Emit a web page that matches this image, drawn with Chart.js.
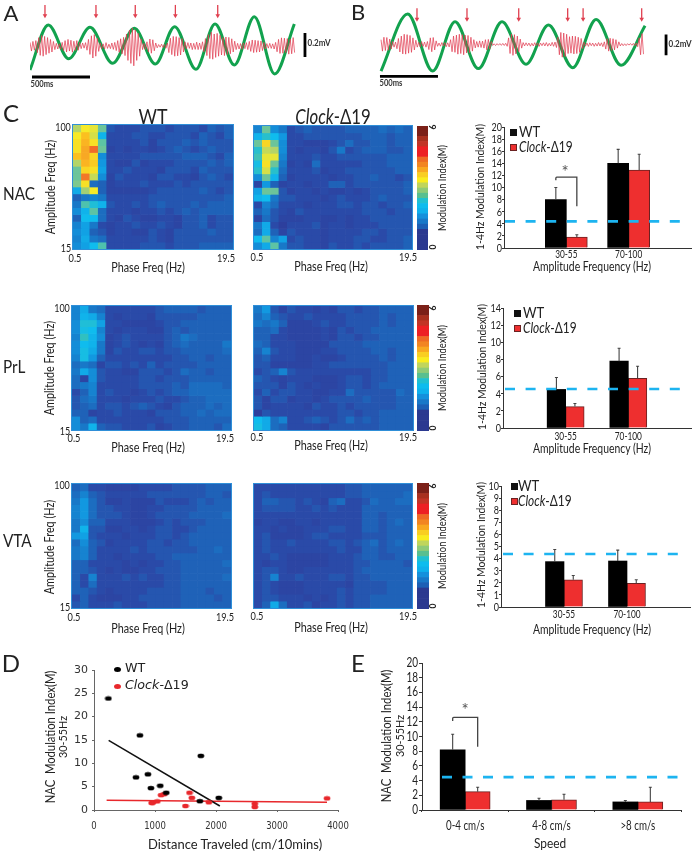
<!DOCTYPE html>
<html><head><meta charset="utf-8">
<script src="https://cdn.jsdelivr.net/npm/chart.js@4"></script>
<style>
html,body{margin:0;padding:0;background:#fff;}
#stage{position:relative;width:692px;height:853px;overflow:hidden;filter:blur(0.4px);font-family:Lato,sans-serif;color:#222;}
#stage canvas{position:absolute;}
.t{position:absolute;white-space:nowrap;line-height:1;}
.s{position:absolute;}
</style></head><body><div id="stage"></div>
<script>
/* ---------- Panels A, B: traces (µV, ms) ---------- */
const sampleStepMs = 12.5;
const greenTimeA = [0,157,331,513,707,892,1072,1237,1419,1582,1747,1918,2092,2260];
const greenValueA = [-200,175,-106,156,-144,147,-150,161,-194,183,-158,244,-233,183];
const redValueA = [30,-42,38,-35,45,-55,70,-78,88,-85,80,-72,70,-60,55,-50,38,-30,22,-25,18,-28,30,-38,45,-50,55,-42,48,-52,40,-38,45,-35,30,-22,25,-18,28,-35,55,-70,85,-100,95,-85,65,-45,25,-22,18,-25,28,-20,15,-22,25,-28,30,-38,45,-52,60,-65,72,-80,100,-120,130,-145,150,-165,135,-120,105,-85,60,-30,22,-28,35,-50,58,-60,52,-40,25,-15,12,-10,15,-12,14,-18,25,-55,65,-72,80,-85,78,-82,70,-75,62,-50,35,-22,28,-20,25,-30,22,-28,32,-30,25,-28,35,-48,62,-80,95,-105,115,-110,100,-95,105,-85,90,-75,70,-80,75,-70,72,-65,60,-50,40,-30,22,-25,20,-28,25,-22,28,-30,38,-45,50,-55,48,-52,45,-50,42,-38,30,-25,20,-18,22,-20,18,-25,30,-48,55,-62,68,-60,65,-55,62,-68,58,-65,70,-55];
const arrowsA = [128,564,900,1243,1605];
const greenTimeB = [0,230,445,638,839,1043,1250,1443,1653,1854,2069,2276];
const greenValueB = [-220,253,-220,189,-200,189,-164,161,-192,208,-172,156];
const redValueB = [40,-55,60,-50,58,-48,45,-38,25,-22,20,-35,50,-62,70,-78,85,-80,82,-72,75,-65,55,-45,35,-22,18,-20,24,-16,20,-22,25,-42,55,-60,58,-45,30,-15,12,-14,16,-12,15,-18,14,-20,40,-60,70,-65,78,-80,85,-75,82,-85,78,-70,75,-68,60,-55,40,-28,25,-22,30,-25,28,-30,40,-45,42,-38,25,-8,6,-9,7,-6,8,-7,9,-8,10,-15,55,-75,85,-90,82,-78,70,-60,45,-30,16,-12,14,-10,12,-14,10,-12,15,-10,13,-16,12,-10,14,-12,16,-14,10,-12,18,-15,20,-25,60,-85,100,-105,95,-100,85,-75,65,-72,70,-78,68,-75,60,-65,50,-35,18,-14,12,-16,14,-10,12,-15,10,-13,16,-12,14,-18,22,-38,48,-55,52,-50,48,-45,40,-30,22,-12,8,-10,6,-9,7,-5,8,-6,9,-10,12,-18,55,-85,90,-80];
const arrowsB = [310,741,1187,1609,1742,2247];

/* ---------- Panel C: comodulograms (modulation index ×10), rows 100→15 Hz ---------- */
const nacWT = [
[31,35,34,27,9,8,8,8,9,9,9,8,9,9,9,8,10,9,10],[35,39,33,18,8,8,8,9,9,8,8,9,9,9,8,10,9,8,10],
[36,40,36,26,8,8,8,8,9,7,9,9,9,10,9,10,9,9,9],[36,41,46,27,7,8,7,8,8,7,8,9,10,9,8,9,10,9,9],
[39,41,37,14,8,8,8,8,9,9,9,9,9,10,10,10,9,8,10],[31,40,38,15,8,7,7,9,7,8,8,8,9,9,9,9,10,9,10],
[27,37,36,16,8,8,9,8,8,8,7,9,9,9,8,10,9,9,9],[27,45,32,14,7,9,8,8,8,7,9,9,8,8,7,9,10,9,8],
[28,36,11,10,7,8,8,8,9,8,8,8,9,8,9,9,9,9,9],[17,30,35,10,7,7,7,7,7,8,9,9,9,9,9,10,9,8,9],
[10,12,13,12,8,8,8,8,8,9,9,9,9,9,9,9,9,9,10],[12,25,21,18,9,8,8,9,8,9,10,9,9,9,10,9,10,10,10],
[14,18,26,11,8,8,8,7,8,8,9,8,9,10,9,10,10,10,10],[10,19,19,11,8,7,9,8,7,7,8,8,7,9,9,10,8,9,9],
[13,16,12,8,7,8,8,9,8,8,9,8,7,9,9,10,8,9,9],[14,16,10,9,7,8,8,7,7,9,8,7,9,9,9,9,10,9,9],
[13,17,12,11,8,8,8,8,8,9,8,7,9,9,9,9,9,9,9],[14,16,19,25,8,8,8,8,9,9,9,8,9,9,9,10,10,10,10]];
const nacClock = [
[13,27,14,12,8,9,10,9,9,9,9,10,10,10,10,11,10,11,10],[18,22,19,15,8,8,9,9,9,9,9,9,9,10,10,10,9,10,10],
[27,37,27,14,8,8,7,7,7,8,9,11,9,9,10,10,9,10,10],[22,32,31,14,8,7,8,8,7,9,12,8,9,10,10,10,9,9,10],
[24,34,34,13,8,8,8,9,8,8,9,9,9,9,9,9,10,10,10],[20,36,27,12,7,8,7,11,8,8,8,8,8,9,9,9,10,10,10],
[22,33,22,11,8,8,8,9,7,8,8,9,9,9,9,9,9,10,10],[14,27,18,10,7,8,8,8,8,7,8,8,9,9,10,9,9,8,9],
[7,15,10,7,8,8,7,8,8,10,10,8,9,9,9,9,9,9,10],[16,27,27,9,7,8,8,7,8,7,7,8,7,8,9,9,9,9,10],
[18,19,12,9,9,8,8,8,7,8,9,8,8,8,9,10,9,9,9],[8,13,11,8,8,8,7,8,8,8,9,9,8,9,9,8,9,9,10],
[10,12,9,8,7,9,8,8,8,8,8,8,8,9,9,9,8,9,9],[7,11,9,7,7,7,8,8,7,7,8,7,8,8,9,9,9,9,9],
[12,17,8,6,8,8,8,9,7,8,8,7,8,8,8,9,9,9,9],[11,17,10,7,9,8,8,8,7,8,8,8,8,9,9,8,9,9,9],
[19,26,13,16,8,9,8,8,7,8,8,8,9,9,8,8,9,9,10],[14,17,26,12,9,9,8,8,7,9,8,8,9,8,9,9,9,9,10]];
const prlWT = [
[13,17,12,11,8,8,8,8,8,8,9,10,10,10,10,9,10,10,10],[13,18,17,13,8,7,8,8,8,7,9,9,9,9,9,10,10,10,10],
[14,21,21,16,8,8,7,7,7,7,8,9,9,10,10,10,10,10,10],[14,20,19,13,8,7,8,8,8,7,7,9,10,9,10,10,10,10,10],
[13,23,18,14,7,8,9,8,8,8,8,9,10,12,11,10,10,10,10],[14,19,18,12,7,8,9,8,7,8,7,9,10,11,10,10,10,10,12],
[14,20,17,12,7,9,8,8,9,9,8,9,9,10,10,10,10,10,11],[13,20,15,10,8,8,8,8,8,8,8,8,9,9,10,10,9,10,10],
[11,12,11,7,9,9,8,9,8,10,8,9,9,9,9,10,10,10,10],[12,17,14,9,8,8,7,7,9,9,9,8,9,11,10,10,9,10,10],
[11,7,14,9,8,8,8,8,9,9,8,9,9,9,10,10,10,10,10],[11,12,13,8,8,8,8,8,9,9,9,9,10,9,11,11,11,11,10],
[8,10,13,8,9,8,8,7,8,9,8,9,10,10,11,11,11,11,11],[9,11,12,8,8,8,7,8,8,8,9,8,8,9,10,10,11,11,11],
[9,10,11,8,9,9,8,9,10,9,8,7,9,10,10,10,11,10,11],[10,10,7,8,8,9,8,8,8,7,9,9,9,10,10,11,10,11,11],
[14,10,11,8,8,8,8,8,8,8,8,9,9,9,10,10,10,10,10],[14,12,18,10,9,9,8,8,8,9,7,8,9,9,10,10,10,9,11]];
const prlClock = [
[12,15,9,7,9,8,8,7,8,7,9,9,8,9,9,10,10,10,10],[11,13,10,9,8,8,9,8,8,8,8,9,9,9,9,10,9,10,10],
[12,11,12,10,7,7,7,8,9,8,8,9,9,9,9,10,9,10,10],[10,10,11,8,7,7,7,7,8,7,9,8,9,9,10,10,10,10,10],
[10,10,8,8,7,7,7,7,8,7,9,9,8,9,9,10,10,10,10],[11,10,8,8,8,7,7,7,7,9,9,9,9,10,10,10,10,10,10],
[10,13,9,8,8,7,7,7,8,8,9,9,9,9,10,10,9,10,10],[9,10,8,8,8,7,7,8,7,7,8,9,9,9,9,10,9,10,10],
[9,9,7,7,7,7,7,8,8,9,9,9,9,9,9,9,10,10,10],[8,9,10,13,9,8,8,8,8,8,8,8,8,8,9,9,10,10,10],
[10,9,8,7,8,8,8,7,7,7,8,9,9,8,9,9,10,10,10],[9,9,9,7,9,8,7,8,7,7,8,9,9,8,9,10,10,10,10],
[8,10,8,9,9,8,8,7,7,8,8,11,9,9,9,9,9,11,10],[9,7,9,9,7,8,8,7,8,9,9,9,9,10,9,9,9,10,10],
[9,7,8,8,8,8,7,9,8,8,9,8,9,9,9,9,9,10,10],[6,9,8,8,8,8,8,8,8,8,9,9,8,9,9,10,10,10,10],
[19,17,11,13,8,8,9,10,9,8,9,11,9,10,9,10,10,10,10],[20,17,11,10,8,8,8,8,7,9,9,9,9,9,9,10,10,10,10]];
const vtaWT = [
[10,11,8,8,7,7,7,7,8,8,8,8,9,9,9,9,10,10,10],[11,13,10,9,8,8,8,8,8,9,9,9,9,9,9,9,10,10,9],
[12,15,11,9,7,7,8,7,7,7,9,8,8,8,9,10,9,10,10],[13,15,11,9,9,8,8,7,7,8,8,9,9,9,9,10,10,10,10],
[13,15,11,9,9,9,8,7,7,8,9,9,9,9,10,10,10,10,11],[12,14,10,10,8,8,8,7,7,7,8,9,8,9,9,9,10,10,10],
[12,18,9,9,7,7,8,8,7,8,9,9,8,8,9,10,10,10,10],[15,16,9,8,8,8,7,8,8,8,9,9,8,9,10,10,10,10,10],
[11,14,10,9,7,8,8,8,8,9,9,8,9,9,10,10,10,10,10],[12,13,10,8,8,8,8,9,8,9,9,9,9,9,9,10,10,11,10],
[12,13,10,8,8,7,8,8,8,8,9,9,10,10,10,10,10,10,10],[10,10,8,8,8,8,7,8,7,8,8,9,9,10,10,10,10,10,11],
[10,10,9,8,7,8,7,7,8,8,9,9,9,10,10,10,10,10,10],[10,8,13,8,8,8,9,8,9,8,8,9,9,10,10,10,10,10,11],
[10,8,11,8,8,8,8,8,8,8,8,9,9,10,10,10,10,10,10],[10,10,9,8,7,8,8,8,8,9,9,9,9,10,10,10,9,10,10],
[8,10,8,7,7,7,8,8,9,9,9,9,9,10,10,10,10,9,10],[9,10,8,8,8,9,8,8,8,9,9,9,9,10,10,10,10,10,10]];
const vtaClock = [
[8,8,8,8,8,8,8,8,8,8,8,9,9,10,10,10,10,10,10],[8,9,8,8,8,8,8,8,8,8,8,9,9,10,10,10,10,10,11],
[8,10,10,9,9,8,9,8,7,10,11,8,8,9,11,10,10,11,11],[8,9,9,9,9,8,8,9,8,9,8,8,8,10,10,10,10,10,10],
[8,8,8,8,8,8,8,8,8,8,8,8,8,10,10,9,10,10,10],[7,8,8,7,7,8,8,7,8,8,8,8,8,10,10,9,10,11,10],
[8,8,7,8,7,7,8,8,8,9,9,8,8,10,10,9,10,10,10],[8,9,7,7,7,7,8,9,9,8,8,8,8,9,9,9,10,10,10],
[8,9,8,8,9,8,8,8,8,9,9,8,9,10,11,9,10,11,10],[8,9,8,8,8,8,8,8,8,8,9,8,8,10,10,9,10,10,10],
[8,8,9,8,7,7,7,7,7,8,8,8,9,10,10,9,9,10,10],[8,7,8,8,7,7,7,7,7,8,8,8,9,9,10,10,10,10,9],
[8,9,9,8,7,7,8,8,8,8,8,8,9,10,10,10,10,10,10],[8,9,13,8,8,9,8,8,8,9,9,8,9,9,10,10,10,10,10],
[8,9,8,7,7,7,8,8,8,8,8,7,9,9,9,9,10,10,10],[8,9,8,7,7,7,8,8,8,8,9,8,9,9,9,9,10,10,10],
[8,9,9,8,8,8,7,8,7,8,9,8,9,9,10,10,10,10,10],[8,10,17,11,8,8,9,7,8,8,9,8,9,9,10,10,10,10,10]];
const phaseBins = ['0.5','1.5','2.5','3.5','4.5','5.5','6.5','7.5','8.5','9.5','10.5','11.5','12.5','13.5','14.5','15.5','16.5','17.5','18.5'];
const heatStopValues = [5,8,10,12,15,19,23,27,31,35,39,43,47,51,55,60];
const heatStopColors = ['#2f3a98','#2a4aa8','#1f62b8','#1878c8','#1298e0','#0fbcee','#30c0c0','#6cc49a','#b4d468','#f6ea28','#fbc020','#f59028','#ef6028','#ea2226','#b83224','#7a1c14'];
const colorbarBands = ['#2b3990','#2b3990','#2b3990','#2b3990','#1c5fb5','#1878c8','#1590dc','#0fb0ec','#0dbcee','#20c0d0','#58bf90','#8fca78','#c0d55c','#f9ec1f','#f9ce22','#f8a820','#f28522','#ee6a24','#ed2024','#ed2024','#c23426','#a8301f','#7b2018','#7b2018'];

/* ---------- Panel C: bars ---------- */
const freqCats = ['', '30-55', '70-100', ''];
const nacWTBars = [null,8,14,null],      nacWTErr = [null,10,16.3,null];
const nacClockBars = [null,1.8,12.9,null], nacClockErr = [null,2.2,15.5,null];
const prlWTBars = [null,4.5,7.8,null],   prlWTErr = [null,5.9,9.3,null];
const prlClockBars = [null,2.5,5.8,null],prlClockErr = [null,2.85,7.2,null];
const vtaWTBars = [null,3.75,3.8,null],  vtaWTErr = [null,4.75,4.7,null];
const vtaClockBars = [null,2.25,1.95,null], vtaClockErr = [null,2.6,2.25,null];

/* ---------- Panel D ---------- */
const dWTx = [235,753,1752,688,884,933,1086,1184,1735,2046];
const dWTy = [23.9,16,11.6,7,7.66,4.7,5.2,3.7,1.9,2.6];
const dClockX = [945,966,1037,1100,1150,1500,1566,1604,1883,2636,2636,3820];
const dClockY = [1.5,1.6,1.86,3.2,3.4,0.86,3.7,2.6,1.65,1.36,0.65,2.5];
const dWTFitX = [240,2063], dWTFitY = [14.9,0.86];
const dClockFitX = [207,3820], dClockFitY = [2.08,1.65];

/* ---------- Panel E ---------- */
const speedCats = ['0-4 cm/s','4-8 cm/s','>8 cm/s'];
const eWTBars = [8.2,1.3,1.1],   eWTErr = [10.3,1.6,1.3];
const eClockBars = [2.5,1.4,1.1], eClockErr = [3.1,2.15,3.1];

/* ---------- helpers ---------- */
const stage = document.getElementById('stage');
function text(html,x,y,o={}){
  const d=document.createElement('div');d.className='t';d.innerHTML=html;
  d.style.left=x+'px';d.style.top=y+'px';
  d.style.fontSize=(o.size||13)+'px';
  if(o.font)d.style.fontFamily=o.font;
  if(o.weight)d.style.fontWeight=o.weight;
  if(o.color)d.style.color=o.color;
  const left=o.anchor==='left';
  if(left)d.style.transformOrigin='left center';
  d.style.transform=`translate(${left?'0%':'-50%'},-50%)`+(o.rot?` rotate(${o.rot}deg)`:'')+(o.sx?` scaleX(${o.sx})`:'');
  stage.appendChild(d);
}
function swatch(x,y,w,h,fill,border){
  const d=document.createElement('div');d.className='s';
  d.style.cssText+=`left:${x}px;top:${y}px;width:${w}px;height:${h}px;background:${fill};box-sizing:border-box;`+(border?`border:1px solid ${border};`:'');
  stage.appendChild(d);return d;
}
function canvasAt(l,t,w,h){
  const c=document.createElement('canvas');c.width=w;c.height=h;
  c.style.left=l+'px';c.style.top=t+'px';c.style.width=w+'px';c.style.height=h+'px';
  stage.appendChild(c);return c;
}
function heatColor(v){
  if(v<=heatStopValues[0])return heatStopColors[0];
  for(let i=1;i<heatStopValues.length;i++){
    if(v<=heatStopValues[i]){
      const f=(v-heatStopValues[i-1])/(heatStopValues[i]-heatStopValues[i-1]);
      const a=heatStopColors[i-1],b=heatStopColors[i];
      const ch=(s,k)=>parseInt(s.substr(1+k*2,2),16);
      return `rgb(${[0,1,2].map(k=>Math.round(ch(a,k)+(ch(b,k)-ch(a,k))*f)).join(',')})`;
    }
  }
  return heatStopColors[heatStopColors.length-1];
}
/* paints each scale's own tick labels horizontally condensed, at the scale's tick pixels */
function tickPainter(c){return {id:'tickPainter',afterDraw(ch){
  const g=ch.ctx,a=ch.chartArea;
  ['x','y'].forEach(k=>{
    const s=ch.scales[k],f=c[k];
    s.ticks.forEach((tk,i)=>{
      if(tk.label===''||tk.label==null)return;
      const p=s.getPixelForTick(i);
      g.save();
      g.fillStyle=c.color||'#222';g.textBaseline='middle';
      g.font=`${f.size}px "${f.family}"`;
      if(k==='x'){g.translate(p,a.bottom+f.off);g.textAlign='center';}
      else{g.translate(a.left-f.off,p);g.textAlign='right';}
      g.scale(f.sx,1);g.fillText(String(tk.label),0,0);g.restore();
    });
  });
}};}
const silent={legend:{display:false},tooltip:{enabled:false},title:{display:false}};
function heatmap(rows,l,t,r,b){
  const c=canvasAt(l,t,r-l,b-t);
  c.style.outline='1px solid #2f8fd8';
  new Chart(c,{type:'bar',
    data:{labels:phaseBins,datasets:rows.map((row,ri)=>({
      data:row.map(()=>[ri,ri+1]),backgroundColor:row.map(heatColor),
      borderWidth:0,barPercentage:1,categoryPercentage:1,grouped:false}))},
    options:{responsive:false,animation:false,events:[],plugins:silent,layout:{padding:0},
      scales:{x:{display:false},y:{display:false,reverse:true,min:0,max:rows.length}}}});
}
function colorbar(l,t,r,b){
  const c=canvasAt(l,t,r-l,b-t);
  new Chart(c,{type:'bar',
    data:{labels:['M'],datasets:colorbarBands.map((col,i)=>({
      data:[[i/4,(i+1)/4]],backgroundColor:col,borderWidth:0,barPercentage:1,categoryPercentage:1,grouped:false}))},
    options:{responsive:false,animation:false,events:[],plugins:silent,layout:{padding:0},
      scales:{x:{display:false},y:{display:false,min:0,max:6}}}});
}
function barChart(o){
  const padL=o.l-o.cl, padT=10, padB=28, padR=o.cr-o.r;
  const c=canvasAt(o.cl,o.t-padT,o.cr-o.cl,o.b-o.t+padT+padB);
  const overlay={id:'overlay',afterDatasetsDraw(ch){
    const g=ch.ctx,y=ch.scales.y;
    [[0,o.wtErr],[1,o.clockErr]].forEach(([ds,err])=>{
      const m=ch.getDatasetMeta(ds);
      err.forEach((e,i)=>{ if(e==null)return;
        const el=m.data[i],p=y.getPixelForValue(e);
        g.save();g.strokeStyle='#444';g.lineWidth=1.1;g.beginPath();
        g.moveTo(el.x,el.y);g.lineTo(el.x,p);g.moveTo(el.x-1.5,p);g.lineTo(el.x+1.5,p);g.stroke();g.restore();
      });
    });
    const ty=y.getPixelForValue(o.threshold);
    g.save();g.strokeStyle='#1db4f0';g.lineWidth=2.6;g.setLineDash(o.dash||[10,10.6]);
    g.beginPath();g.moveTo(o.dashL-o.cl,ty);g.lineTo(o.dashR-o.cl,ty);g.stroke();g.restore();
    if(o.bracket){
      const i=o.bracket.index,a=ch.getDatasetMeta(0).data[i],b=ch.getDatasetMeta(1).data[i];
      const top=y.getPixelForValue(o.bracket.top),lo=y.getPixelForValue(o.bracket.left),ro=y.getPixelForValue(o.bracket.right);
      g.save();g.strokeStyle='#444';g.lineWidth=1.3;g.beginPath();
      g.moveTo(a.x,lo);g.lineTo(a.x,top+1);g.quadraticCurveTo(a.x,top,a.x+1,top);g.lineTo(b.x,top);g.lineTo(b.x,ro);g.stroke();g.restore();
    }
  }};
  new Chart(c,{type:'bar',plugins:[overlay,tickPainter({
      x:{size:o.xSize,family:'Lato',sx:o.xSx,off:o.xOff},
      y:{size:o.ySize,family:'Lato',sx:o.ySx,off:o.yOff}})],
    data:{labels:o.cats,datasets:[
      {data:o.wt,backgroundColor:'#000',borderWidth:0,barThickness:o.bw},
      {data:o.clock,backgroundColor:'#ee2f2f',borderColor:'#6b2222',borderWidth:1,barThickness:o.bw}]},
    options:{responsive:false,animation:false,events:[],plugins:silent,
      layout:{padding:{top:padT,right:padR,left:0,bottom:0}},
      scales:{
        x:{offset:o.offset,grid:{display:!!o.offset,drawOnChartArea:false,tickLength:2,color:'#333'},
           border:{color:'#333',width:1},
           ticks:{display:false,autoSkip:false,maxRotation:0},
           afterFit:s=>{s.height=padB;}},
        y:{min:0,max:o.yMax,grid:{drawOnChartArea:false,drawTicks:true,tickLength:o.yTick,color:'#333'},
           border:{color:'#333',width:1},
           ticks:{display:false,stepSize:o.step,autoSkip:false},
           afterFit:s=>{s.width=padL;}}
      }}});
}
function wave(o){
  const c=canvasAt(o.l,o.t,o.r-o.l,o.b-o.t);
  const arrows={id:'arrows',afterDatasetsDraw(ch){
    const g=ch.ctx,x=ch.scales.x,y=ch.scales.y;
    o.arrows.forEach(a=>{
      const px=x.getPixelForValue(a),t=y.getPixelForValue(o.arrowTop),b=y.getPixelForValue(o.arrowTip);
      g.save();g.strokeStyle='#e04050';g.fillStyle='#e04050';g.lineWidth=1.3;
      g.beginPath();g.moveTo(px,t);g.lineTo(px,b-3);g.stroke();
      g.beginPath();g.moveTo(px-2.3,b-4);g.lineTo(px+2.3,b-4);g.lineTo(px,b);g.closePath();g.fill();g.restore();
    });
  }};
  new Chart(c,{type:'line',plugins:[arrows],
    data:{datasets:[
      {data:o.red.map((v,i)=>({x:i*sampleStepMs,y:v})),borderColor:'rgba(225,60,80,0.72)',borderWidth:1,pointRadius:0,tension:0},
      {data:o.greenT.map((t,i)=>({x:t,y:o.greenV[i]})),borderColor:'#12a24e',borderWidth:3,pointRadius:0,cubicInterpolationMode:'monotone'},
      {data:o.barH,borderColor:'#000',borderWidth:2.8,pointRadius:0},
      {data:o.barV,borderColor:'#000',borderWidth:2.8,pointRadius:0}]},
    options:{responsive:false,animation:false,events:[],plugins:silent,layout:{padding:0},
      scales:{x:{type:'linear',display:false,min:o.xMin,max:o.xMax},y:{display:false,min:-o.yLim,max:o.yLim}}}});
}

/* ---------- A, B ---------- */
wave({l:30,t:0,r:330,b:92,xMin:0,xMax:2565,yLim:383,red:redValueA,greenT:greenTimeA,greenV:greenValueA,arrows:arrowsA,arrowTop:342,arrowTip:231,
  barH:[{x:17,y:-258},{x:513,y:-258}],barV:[{x:2351,y:108},{x:2351,y:-92}]});
wave({l:378,t:0,r:678,b:89,xMin:-26,xMax:2560,yLim:369,red:redValueB,greenT:greenTimeB,greenV:greenValueB,arrows:arrowsB,arrowTop:300,arrowTip:189,
  barH:[{x:-9,y:-264},{x:491,y:-264}],barV:[{x:2457,y:83},{x:2457,y:-89}]});
text('A',11,13,{size:22});text('B',358,12,{size:22});
text('500ms',42,84,{size:9.5,weight:700,color:'#333',sx:.8});
text('500ms',391,83,{size:9.5,weight:700,color:'#333',sx:.8});
text('0.2mV',319,43,{size:9.5,weight:700,color:'#333',sx:.85});
text('0.2mV',680,44,{size:9.5,weight:700,color:'#333',sx:.85});

/* ---------- C ---------- */
text('C',11,113,{size:24});
text('WT',153,115,{size:21,sx:.85});
text('<i>Clock</i>-Δ19',333,115,{size:21,sx:.8});
[['NAC',193],['PrL',366],['VTA',540]].forEach(([s,y])=>text(s,3,y,{size:17,anchor:'left',sx:.9}));

heatmap(nacWT,73,125,233,249);heatmap(nacClock,254,126,412,249);colorbar(417,126,428,250);
heatmap(prlWT,72,306,231,430);heatmap(prlClock,254,306,413,430);colorbar(417,305,429,431);
heatmap(vtaWT,72,484,231,608);heatmap(vtaClock,254,484,412,608);colorbar(417,483,429,609);

[[127,248,187,258,268,75,226,148,257,267,257,408,331,63,51,442,127,247,188,433],
 [308,431,368,438,448,74,225,148,437,446,257,408,331,62,50,442,308,428,368,433],
 [485,607,547,617,629,74,225,148,616,628,257,408,331,62,50,442,486,606,546,433]].forEach(r=>{
  const [y100,y15,yc,yt,yp,x05,x195,xp,ytc,ypc,xc05,xc195,xpc,xr,xa,xm,y6,y0,ym,xn]=r;
  text('100',xr,y100,{size:11.5,sx:.78});
  text('15',xr+3,y15,{size:11.5,sx:.78});
  text('Phase Freq (Hz)',xp,yp,{size:13.5,sx:.8});text('Phase Freq (Hz)',xpc,ypc,{size:13.5,sx:.8});
  text('0.5',x05,yt,{size:11.5,sx:.8});text('19.5',x195,yt,{size:11.5,sx:.8});
  text('0.5',xc05,ytc,{size:11.5,sx:.8});text('19.5',xc195,ytc,{size:11.5,sx:.8});
  text('Amplitude Freq (Hz)',xa,yc,{size:13.5,rot:-90,sx:.8});
  text('Modulation Index(M)',xm,ym,{size:12,rot:-90,sx:.78});
  text('6',xn,y6,{size:8.5,rot:-90,weight:700});text('0',xn,y0,{size:8.5,rot:-90,weight:700});
});

const cTicks={xSize:11.5,xSx:.72,ySize:12,ySx:.75,yOff:2,yTick:2};
barChart({cl:470,cr:692,l:504,r:691,t:127,b:248,cats:freqCats,wt:nacWTBars,clock:nacClockBars,wtErr:nacWTErr,clockErr:nacClockErr,
  yMax:20,step:2,threshold:4.4,dashL:505,dashR:680,bw:21,offset:false,xOff:6,...cTicks,bracket:{index:1,top:11.7,left:11.2,right:6.9}});
barChart({cl:470,cr:692,l:503,r:691,t:308,b:428,cats:freqCats,wt:prlWTBars,clock:prlClockBars,wtErr:prlWTErr,clockErr:prlClockErr,
  yMax:14,step:2,threshold:4.55,dashL:505,dashR:680,bw:18.5,offset:false,xOff:8,...cTicks});
barChart({cl:470,cr:692,l:501,r:690,t:486,b:607,cats:freqCats,wt:vtaWTBars,clock:vtaClockBars,wtErr:vtaWTErr,clockErr:vtaClockErr,
  yMax:10,step:1,threshold:4.38,dashL:503,dashR:678,bw:18.5,offset:false,xOff:7,...cTicks});
[[480,187,592,267,510,129,144,519],[482,367,592,449,514,310,325,523],[481,545,592,630,511,483,498,518]].forEach(([xl,yl,xa,ya,sx,sy1,sy2,tx])=>{
  text('1-4Hz Modulation Index(M)',xl,yl,{size:12.3,rot:-90,sx:.84});
  text('Amplitude Frequency (Hz)',xa,ya,{size:13.5,sx:.77});
  swatch(sx,sy1,7,7,'#111');swatch(sx,sy2,7,7,'#ee2f2f','#6b2222');
  text('WT',tx,sy1+3,{size:14.5,anchor:'left',sx:.9});
  text('<i>Clock</i>-Δ19',tx,sy2+3,{size:14.5,anchor:'left',sx:.82});
});
text('*',565,171,{size:17,color:'#555'});

/* ---------- D ---------- */
function dotStyle(col){
  const c=document.createElement('canvas');c.width=8;c.height=6;
  const g=c.getContext('2d');g.fillStyle=col;g.beginPath();g.ellipse(4,3,3.4,2.3,0,0,Math.PI*2);g.fill();return c;
}
(function(){
  const cl=0,cr=350,l=94,r=338,t=670,b=810,padT=8,padB=28;
  const c=canvasAt(cl,t-padT,cr-cl,b-t+padT+padB);
  const zip=(xs,ys)=>xs.map((x,i)=>({x,y:ys[i]}));
  new Chart(c,{type:'scatter',plugins:[tickPainter({color:'#333',
      x:{size:10,family:'DejaVu Sans',sx:.85,off:16},y:{size:10,family:'DejaVu Sans',sx:1.1,off:6}})],
    data:{datasets:[
      {data:zip(dWTx,dWTy),pointStyle:dotStyle('#000'),pointRadius:3},
      {data:zip(dClockX,dClockY),pointStyle:dotStyle('#e8282c'),pointRadius:3},
      {data:zip(dWTFitX,dWTFitY),showLine:true,borderColor:'#111',borderWidth:1.5,pointRadius:0},
      {data:zip(dClockFitX,dClockFitY),showLine:true,borderColor:'#e8282c',borderWidth:1.5,pointRadius:0}]},
    options:{responsive:false,animation:false,events:[],plugins:silent,
      layout:{padding:{top:padT,right:cr-r,left:0,bottom:0}},
      scales:{
        x:{type:'linear',min:0,max:4000,grid:{drawOnChartArea:false,tickLength:2,color:'#666'},border:{color:'#666'},
           ticks:{display:false,stepSize:1000,callback:v=>String(v)},afterFit:s=>{s.height=padB;}},
        y:{min:0,max:30,grid:{drawOnChartArea:false,tickLength:2,color:'#666'},border:{color:'#666'},
           ticks:{display:false,stepSize:5,callback:v=>String(v)},afterFit:s=>{s.width=l-cl;}}
      }}});
})();
text('D',11,663,{size:24});
swatch(114,667,7,5,'#000').style.borderRadius='50%';
swatch(114,684,7,5,'#e8282c').style.borderRadius='50%';
text('WT',125,669,{size:11.5,anchor:'left',font:'DejaVu Sans',sx:1.1});
text('<i>Clock</i>-Δ19',125,686,{size:11.5,anchor:'left',font:'DejaVu Sans',sx:1.1});
text('Distance Traveled (cm/10mins)',235,845,{size:13.5,sx:.96});
text('NAC&nbsp; Modulation Index(M)',51,737,{size:12.5,rot:-90,sx:.9});
text('30-55Hz',63,737,{size:12,rot:-90,sx:.9});

/* ---------- E ---------- */
text('E',358,663,{size:24});
barChart({cl:355,cr:692,l:422,r:681,t:663,b:810,cats:speedCats,wt:eWTBars,clock:eClockBars,wtErr:eWTErr,clockErr:eClockErr,
  yMax:20,step:2,threshold:4.47,dashL:442,dashR:680,dash:[10,10.5],bw:25,offset:true,xOff:16,xSize:12.5,xSx:.78,ySize:12.5,ySx:.8,yOff:4,yTick:3,
  bracket:{index:0,top:12.6,left:12.1,right:8.6}});
text('NAC&nbsp; Modulation Index(M)',387,736,{size:12.5,rot:-90,sx:.9});
text('30-55Hz',400,736,{size:12,rot:-90,sx:.9});
text('Speed',550,844,{size:13.5,sx:.88});
text('*',465,709,{size:17,color:'#555'});
</script>
</body></html>
